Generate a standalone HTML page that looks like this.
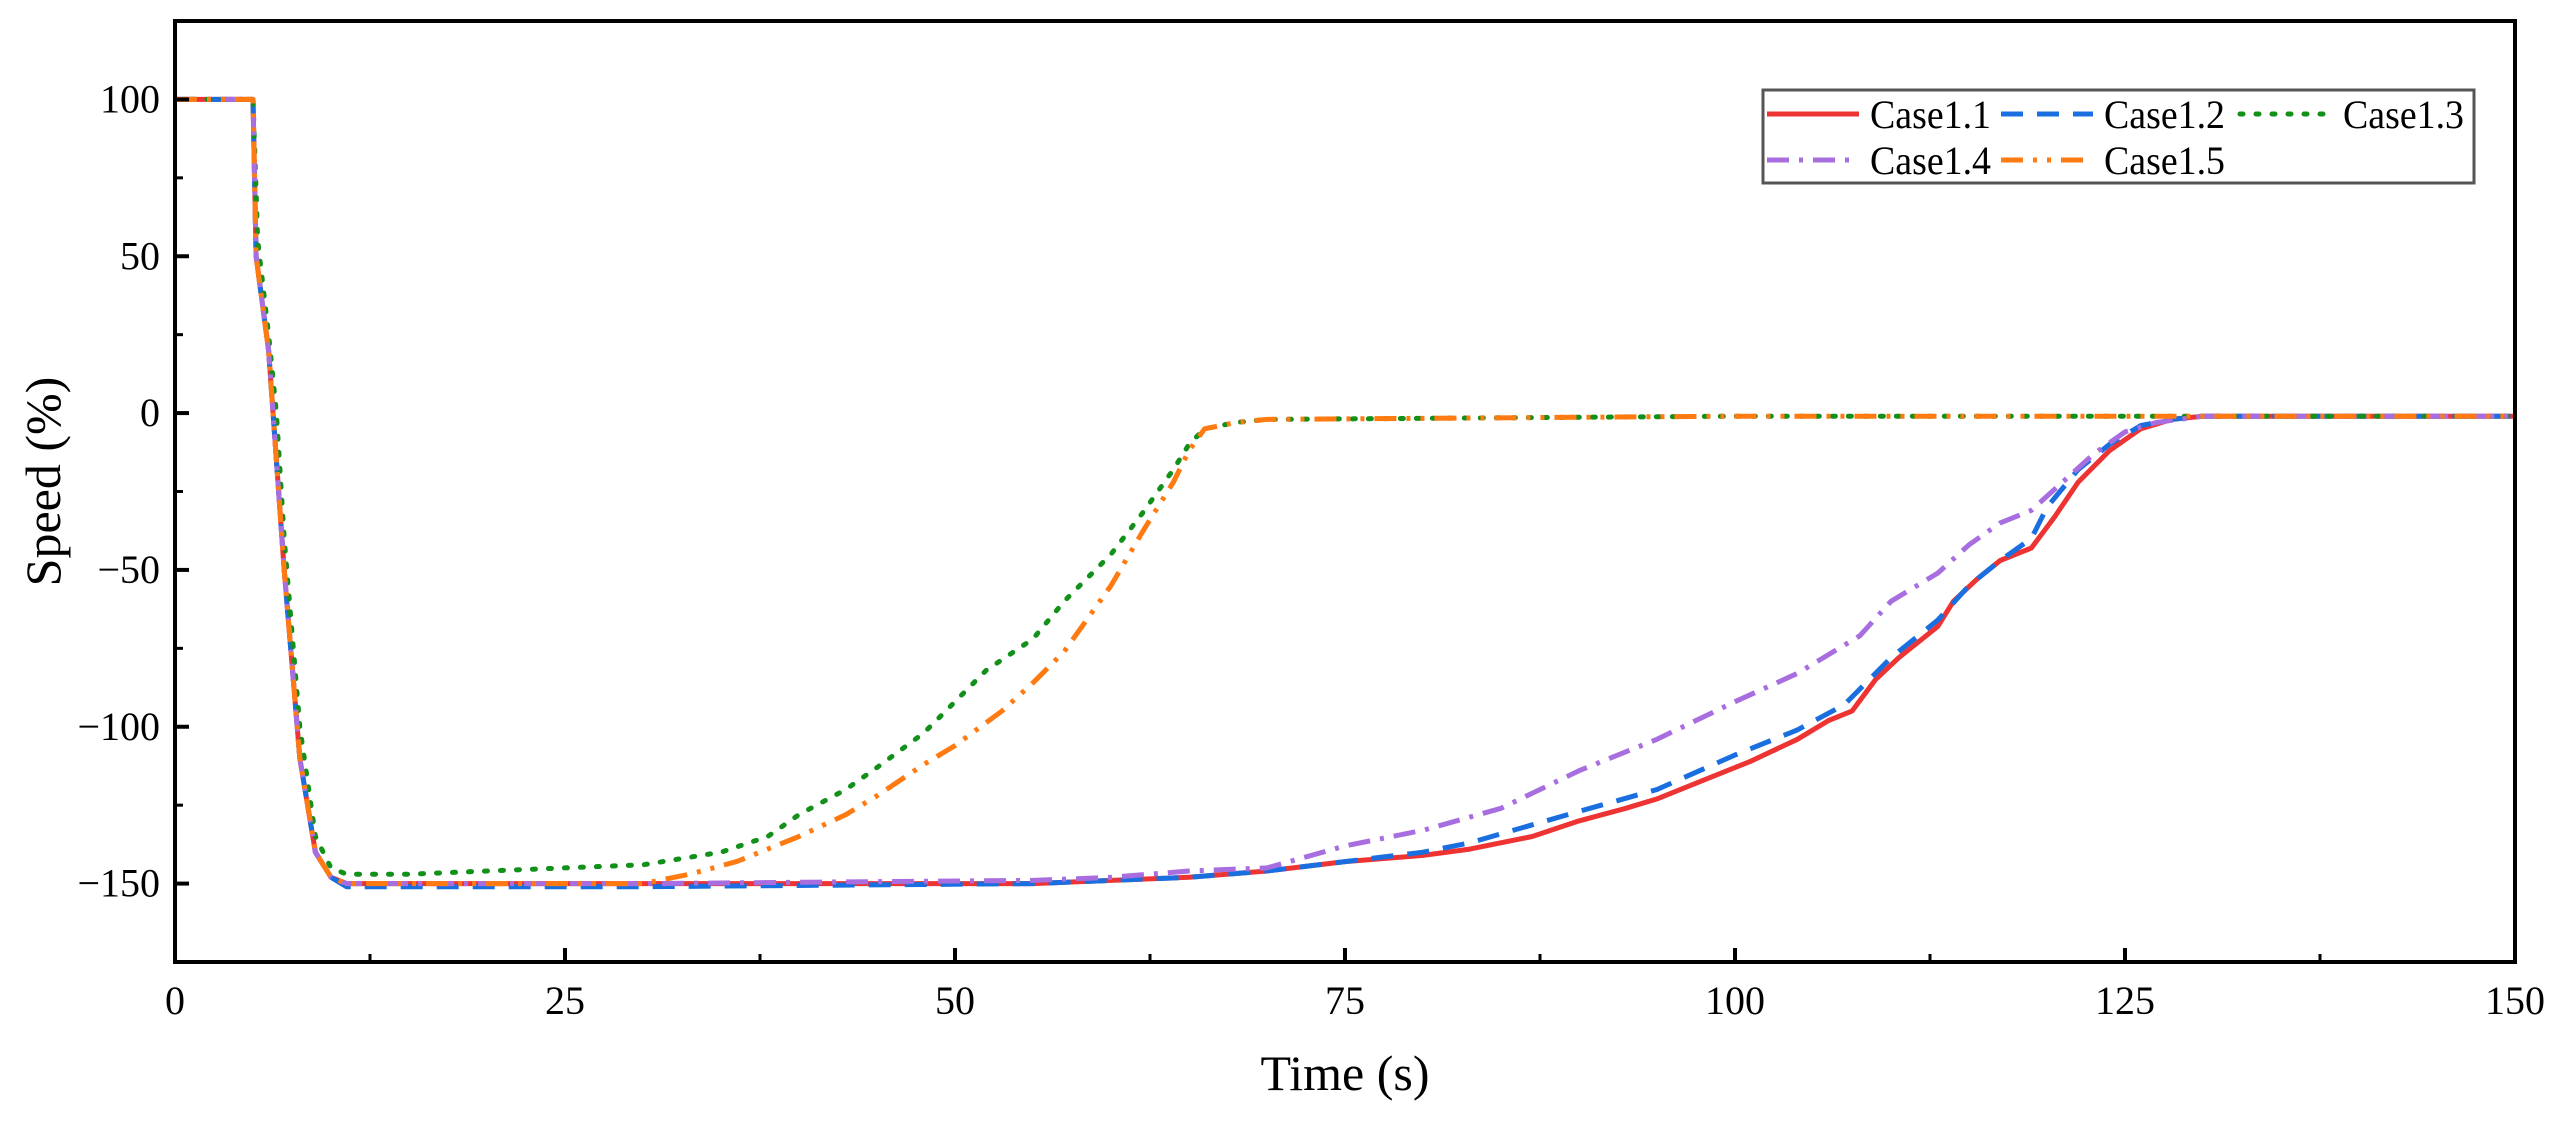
<!DOCTYPE html>
<html><head><meta charset="utf-8"><style>
html,body{margin:0;padding:0;background:#fff;}
svg{display:block;}
text{font-family:"Liberation Serif",serif;fill:#000;}
</style></head><body>
<svg id="chart" width="2566" height="1121" viewBox="0 0 2566 1121"></svg>
<script>
const xTicks=[0,25,50,75,100,125,150];
const yTicks=[100,50,0,-50,-100,-150];
const c11t=[0,5,5.2,6,7,8,9,10,11,30,55,60,65,70,75,80,83,87,90,93,95,98,101,104,106,107.5,109,110.5,112,113,114,115.5,117,119,120.5,122,124,126,128,130,150];
const c11v=[100,100,50,20,-50,-110,-140,-148,-150,-150,-150,-149,-148,-146,-143,-141,-139,-135,-130,-126,-123,-117,-111,-104,-98,-95,-85,-78,-72,-68,-60,-53,-47,-43,-33,-22,-12,-5,-2,-1,-1];
const c12t=[0,5,5.2,6,7,8,9,10,11,30,55,60,65,70,75,80,83,90,95,100,104,107,108,110,113,115,117,119,120,122,124,126,128,130,150];
const c12v=[100,100,50,20,-50,-110,-140,-148,-151,-151,-150,-149,-148,-146,-143,-140,-137,-127,-120,-109,-101,-93,-88,-78,-66,-55,-47,-40,-30,-18,-10,-4,-2,-1,-1];
const c13t=[0,5,5.3,6,6.5,7,8,9,10,11,15,20,25,30,35,38,40,43,45,48,50,52,55,57,60,62,64,65,66,68,70,100,150];
const c13v=[100,100,55,25,0,-40,-100,-135,-145,-147,-147,-146,-145,-144,-140,-135,-128,-120,-113,-102,-92,-82,-72,-60,-45,-32,-18,-10,-5,-3,-2,-1,-1];
const c14t=[0,5,5.2,6,7,8,9,10,11,30,55,60,65,70,75,80,85,90,95,100,104,107,108,110,113,115,117,119,121,123,125,127,130,150];
const c14v=[100,100,50,20,-50,-110,-140,-148,-150,-150,-149,-148,-146,-145,-138,-133,-126,-114,-104,-92,-83,-74,-71,-60,-51,-42,-35,-31,-22,-13,-6,-3,-1,-1];
const c15t=[0,5,5.2,6,7,8,9,10,11,30,33,36,40,43,45,48,50,53,55,57,60,62,64,65,66,68,70,100,150];
const c15v=[100,100,50,20,-50,-110,-140,-148,-150,-150,-147,-143,-135,-128,-122,-112,-106,-95,-86,-76,-55,-38,-22,-12,-5,-3,-2,-1,-1];
const L=175,R=2515,T=21,B=962,xMin=0,xMax=150,yMin=-175,yMax=125;
const X=v=>L+(v-xMin)/(xMax-xMin)*(R-L);
const Y=v=>B-(v-yMin)/(yMax-yMin)*(B-T);
const svg=document.getElementById('chart');const NS='http://www.w3.org/2000/svg';
function mk(tag,attrs,parent){const e=document.createElementNS(NS,tag);for(const k in attrs)e.setAttribute(k,attrs[k]);(parent||svg).appendChild(e);return e;}
const series=[
 {t:c11t,v:c11v,color:'#ee3333',dash:'',name:'case1-1-line',label:'Case1.1'},
 {t:c12t,v:c12v,color:'#1a6fe0',dash:'22 14',name:'case1-2-line',label:'Case1.2'},
 {t:c13t,v:c13v,color:'#12901a',dash:'3 13',name:'case1-3-line',label:'Case1.3'},
 {t:c14t,v:c14v,color:'#a86ee0',dash:'22 10 4 10',name:'case1-4-line',label:'Case1.4'},
 {t:c15t,v:c15v,color:'#ff7a10',dash:'22 10 4 10 4 10',name:'case1-5-line',label:'Case1.5'}];
const clip=mk('clipPath',{id:'pc'});mk('rect',{x:L,y:T,width:R-L,height:B-T},clip);
const g=mk('g',{'clip-path':'url(#pc)'});


series.forEach(s=>{
 const d=s.t.map((t,i)=>(i?'L':'M')+X(t).toFixed(1)+' '+Y(s.v[i]).toFixed(1)).join(' ');
 const p=mk('path',{d:d,fill:'none',stroke:s.color,'stroke-width':5,'stroke-dasharray':s.dash,'stroke-linecap':s.dash==='3 13'?'round':'butt','stroke-linejoin':'round'},g);
 
 
});
const frame=mk('rect',{x:L,y:T,width:R-L,height:B-T,fill:'none',stroke:'#000','stroke-width':4});


xTicks.forEach((v,i)=>{
 const x=X(v);
 mk('line',{x1:x,y1:B,x2:x,y2:B-14,stroke:'#000','stroke-width':4});
 if(i<xTicks.length-1){const xm=X(v+12.5);mk('line',{x1:xm,y1:B,x2:xm,y2:B-8,stroke:'#000','stroke-width':3});}
 const t=mk('text',{x:x,y:1014,'font-size':40,'text-anchor':'middle'});t.textContent=v;
 
 
});
yTicks.forEach((v,i)=>{
 const y=Y(v);
 mk('line',{x1:L,y1:y,x2:L+14,y2:y,stroke:'#000','stroke-width':4});
 if(i<yTicks.length-1){const ym=Y(v-25);mk('line',{x1:L,y1:ym,x2:L+8,y2:ym,stroke:'#000','stroke-width':3});}
 const t=mk('text',{x:160,y:y+13,'font-size':40,'text-anchor':'end'});t.textContent=String(v).replace('-','\u2212');
 
 
});
const xt=mk('text',{x:(L+R)/2,y:1090,'font-size':50,'text-anchor':'middle'});xt.textContent='Time (s)';


const yt=mk('text',{x:0,y:0,'font-size':50,'text-anchor':'middle',transform:'translate(60,'+((T+B)/2-10)+') rotate(-90)'});yt.textContent='Speed (%)';


const lg=mk('g',{});


mk('rect',{x:1763,y:90,width:711,height:93,fill:'#fff',stroke:'#555','stroke-width':3},lg);
const pos=[[1767,114],[2001,114],[2240,114],[1767,160],[2001,160]];
series.forEach((s,i)=>{
 const [x,y]=pos[i];
 const ln=mk('line',{x1:x,y1:y,x2:x+92,y2:y,stroke:s.color,'stroke-width':5,'stroke-dasharray':s.dash,'stroke-linecap':s.dash==='3 13'?'round':'butt'},lg);
 
 
 const t=mk('text',{x:x+103,y:y+14,'font-size':40,textLength:121,lengthAdjust:'spacingAndGlyphs'},lg);t.textContent=s.label;
 
 
});
</script>
</body></html>
